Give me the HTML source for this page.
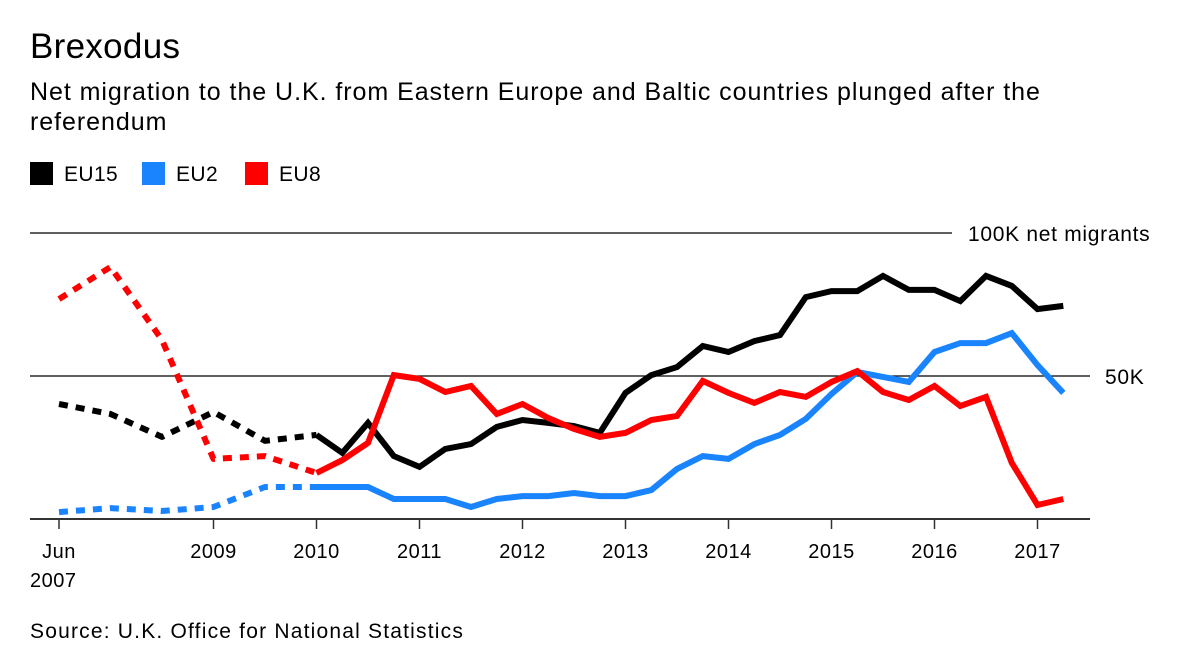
<!DOCTYPE html>
<html><head><meta charset="utf-8"><style>
body{margin:0;background:#fff;font-family:"Liberation Sans",sans-serif;}
#wrap{position:relative;width:1200px;height:666px;overflow:hidden;}
.t{position:absolute;color:#000;white-space:nowrap;}
</style></head><body>
<div id="wrap">
<div class="t" style="left:30px;top:27px;font-size:35px;letter-spacing:0.3px;">Brexodus</div>
<div class="t" style="left:30px;top:77px;font-size:25px;line-height:30px;letter-spacing:0.95px;">Net migration to the U.K. from Eastern Europe and Baltic countries plunged after the<br>referendum</div>
<div style="position:absolute;left:30px;top:162px;font-size:21px;letter-spacing:0.4px;">
<span style="position:absolute;left:0;top:0;white-space:nowrap;"><span style="display:inline-block;width:23px;height:23px;background:#000;vertical-align:-4px;margin-right:11px"></span>EU15</span>
<span style="position:absolute;left:112px;top:0;white-space:nowrap;"><span style="display:inline-block;width:23px;height:23px;background:#1a84ff;vertical-align:-4px;margin-right:11px"></span>EU2</span>
<span style="position:absolute;left:215px;top:0;white-space:nowrap;"><span style="display:inline-block;width:23px;height:23px;background:#ff0000;vertical-align:-4px;margin-right:11px"></span>EU8</span>
</div>
<svg id="plot" width="1200" height="666" style="position:absolute;left:0;top:0"></svg>
<div class="t" style="left:30px;top:620px;font-size:21px;letter-spacing:1.2px;">Source: U.K. Office for National Statistics</div>
</div>
<script>
const xTicks=[0,6,10,14,18,22,26,30,34,38];
const xTickLabels=["Jun","2009","2010","2011","2012","2013","2014","2015","2016","2017"];
const eu15Dotted=[40.2,36.7,28.7,37.4,27.3,29.4];
const eu15=[29.4,23.1,33.6,22.0,18.2,24.5,26.2,32.2,34.6,33.6,32.5,30.1,44.1,50.3,53.1,60.5,58.4,62.2,64.3,77.6,79.7,79.7,85.0,80.1,80.1,76.2,85.0,81.5,73.4,74.5];
const eu2Dotted=[2.4,3.8,2.8,4.2,11.2,11.2];
const eu2=[11.2,11.2,11.2,7.0,7.0,7.0,4.2,7.0,8.0,8.0,9.1,8.0,8.0,10.1,17.5,22.0,21.0,26.2,29.4,35.0,43.7,51.4,49.7,47.9,58.4,61.5,61.5,65.0,53.8,44.1];
const eu8Dotted=[76.9,88.1,62.6,21.0,22.0,16.1];
const eu8=[16.1,20.6,26.6,50.3,49.0,44.4,46.5,36.7,40.2,35.3,31.5,28.7,30.1,34.6,36.0,48.3,44.1,40.6,44.4,42.7,47.9,51.7,44.4,41.6,46.5,39.5,42.7,19.6,4.9,7.0];
const dottedQuarters=[0,2,4,6,8,10];
const solidStart=10;
const gridValues=[50,100];

const svg=document.getElementById('plot');
const NS='http://www.w3.org/2000/svg';
const x=q=>59+q*25.75;
const y=v=>519-v*2.86;
function mk(tag,attrs){const e=document.createElementNS(NS,tag);for(const k in attrs)e.setAttribute(k,attrs[k]);svg.appendChild(e);return e;}

gridValues.forEach(g=>{
  const ln=mk('line',{x1:30,x2:g===100?952:1090,y1:y(g),y2:y(g),stroke:'#000','stroke-width':1.3});
  
  
  const tx=mk('text',{x:g===100?968:1105,y:y(g)+8,'font-size':21,'letter-spacing':0.7,'font-family':'Liberation Sans, sans-serif'});
  tx.textContent=g===100?'100K net migrants':'50K';
  
  
});
const base=mk('line',{x1:30,x2:1090,y1:519,y2:519,stroke:'#333','stroke-width':2});


xTicks.forEach((q,i)=>{
  const t=mk('line',{x1:x(q),x2:x(q),y1:519,y2:529,stroke:'#333','stroke-width':1.5});
  
  
  const tx=mk('text',{x:x(q),y:558,'text-anchor':'middle','font-size':20,'letter-spacing':0.5,'font-family':'Liberation Sans, sans-serif'});
  tx.textContent=xTickLabels[i];
  
  
});
const yr=mk('text',{x:30,y:587,'font-size':20,'letter-spacing':0.5,'font-family':'Liberation Sans, sans-serif'});
yr.textContent='2007';



function series(dotted,solid,color,name){
  const pd=dotted.map((v,i)=>x(dottedQuarters[i]).toFixed(1)+','+y(v).toFixed(1)).join(' ');
  const d=mk('polyline',{points:pd,fill:'none',stroke:color,'stroke-width':6,'stroke-dasharray':'9 8','stroke-linejoin':'round'});
  
  
  const ps=solid.map((v,i)=>x(solidStart+i).toFixed(1)+','+y(v).toFixed(1)).join(' ');
  const s=mk('polyline',{points:ps,fill:'none',stroke:color,'stroke-width':6,'stroke-linejoin':'miter'});
  
  
}
series(eu2Dotted,eu2,'#1a84ff','eu2');
series(eu15Dotted,eu15,'#000000','eu15');
series(eu8Dotted,eu8,'#ff0000','eu8');
</script>
</body></html>
